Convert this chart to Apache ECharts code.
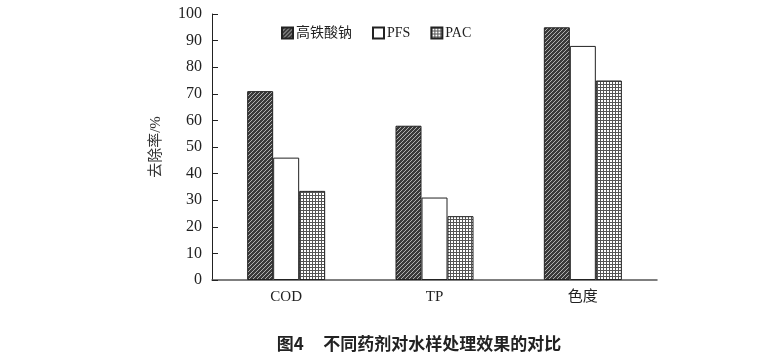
<!DOCTYPE html>
<html><head><meta charset="utf-8">
<script src="https://cdn.jsdelivr.net/npm/echarts@6/dist/echarts.min.js"></script>
<style>html,body{margin:0;padding:0;background:#fff}#c{width:776px;height:356px}</style>
</head><body><div id="c"></div>
<script>
var categories = ['COD', 'TP', '色度'];
var seriesNames = ['高铁酸钠', 'PFS', 'PAC'];
var ferrate = [71, 58, 95];
var pfs = [46, 31, 88];
var pac = [33.5, 24, 75];
var yTicks = [0, 10, 20, 30, 40, 50, 60, 70, 80, 90, 100];

function hatch() {
  var c = document.createElement('canvas'); c.width = 4; c.height = 4;
  var g = c.getContext('2d');
  g.fillStyle = '#3a3a3a'; g.fillRect(0, 0, 4, 4);
  g.strokeStyle = '#b0b0b0'; g.lineWidth = 1;
  g.beginPath(); g.moveTo(0, 4); g.lineTo(4, 0); g.moveTo(-1, 1); g.lineTo(1, -1); g.moveTo(3, 5); g.lineTo(5, 3); g.stroke();
  return c;
}
function grid() {
  var c = document.createElement('canvas'); c.width = 3; c.height = 3;
  var g = c.getContext('2d');
  g.fillStyle = '#ffffff'; g.fillRect(0, 0, 3, 3);
  g.fillStyle = '#555555'; g.fillRect(0, 0, 3, 1); g.fillRect(0, 0, 1, 3);
  return c;
}
var serif = '"Liberation Serif","Noto Sans CJK SC",serif';
var chart = echarts.init(document.getElementById('c'));
var common = { type: 'bar', barWidth: 26, barGap: '0%' };
chart.setOption({
  animation: false,
  title: { text: '图4     不同药剂对水样处理效果的对比', left: 414, textAlign: 'center', top: 330,
    textStyle: { fontFamily: '"Noto Sans CJK SC",sans-serif', fontSize: 17, fontWeight: 'bold', color: '#222' } },
  legend: { top: 21, left: 276, itemWidth: 11, itemHeight: 11, itemGap: 20, icon: 'rect',
    textStyle: { fontFamily: serif, fontSize: 14, color: '#222', padding: [0, 0, 0, -2] },
    data: seriesNames },
  grid: { left: 212, right: 119, top: 14, bottom: 76 },
  xAxis: { type: 'category', data: categories,
    axisLine: { lineStyle: { color: '#555', width: 1.5 } }, axisTick: { show: false },
    axisLabel: { fontFamily: serif, fontSize: 15, color: '#222', margin: 10 } },
  yAxis: { type: 'value', min: 0, max: 100, interval: 10,
    name: '去除率/%', nameLocation: 'middle', nameGap: 48, nameRotate: 90,
    nameTextStyle: { fontFamily: serif, fontSize: 15, color: '#333' },
    axisLine: { show: true, lineStyle: { color: '#222' } },
    axisTick: { show: true, inside: true, length: 6, lineStyle: { color: '#222' } },
    splitLine: { show: false },
    axisLabel: { fontFamily: serif, fontSize: 16, color: '#222', margin: 10,
      formatter: function (v) { return yTicks.indexOf(v) >= 0 ? String(v) : ''; } } },
  series: [
    Object.assign({}, common, { name: seriesNames[0], data: ferrate,
      itemStyle: { color: { image: hatch(), repeat: 'repeat' }, borderColor: '#222', borderWidth: 1 } }),
    Object.assign({}, common, { name: seriesNames[1], data: pfs,
      itemStyle: { color: '#ffffff', borderColor: '#222', borderWidth: 1 } }),
    Object.assign({}, common, { name: seriesNames[2], data: pac,
      itemStyle: { color: { image: grid(), repeat: 'repeat' }, borderColor: '#222', borderWidth: 1 } })
  ]
});
</script></body></html>
